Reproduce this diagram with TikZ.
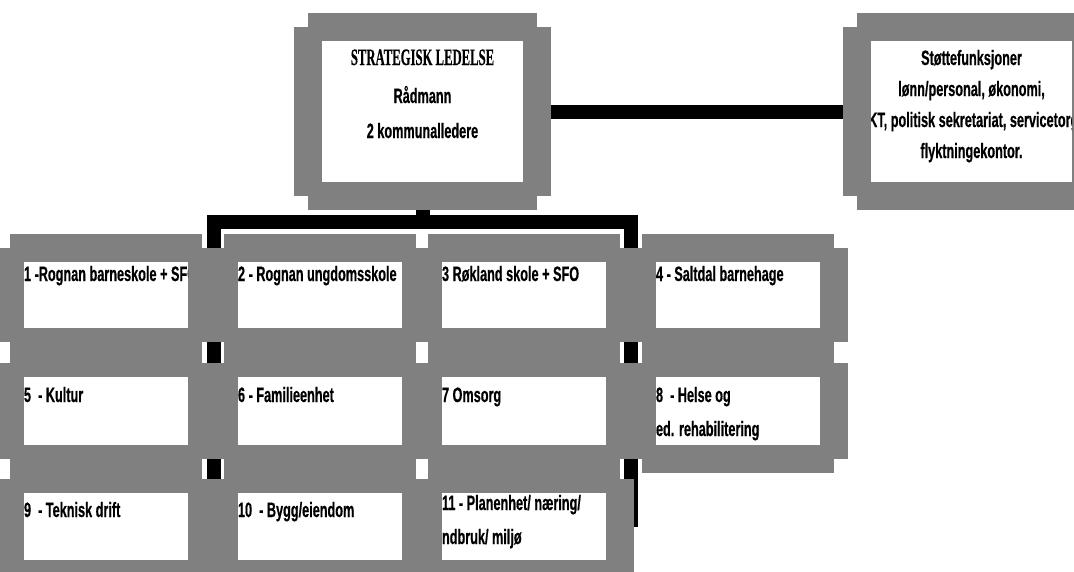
\documentclass[tikz,border=0pt]{standalone}
\usepackage{fontspec}
\newfontfamily\boxfont{Liberation Sans}[FakeStretch=0.61,FakeBold=0.5]
\newfontfamily\headfont{Liberation Serif}[FakeStretch=0.54,FakeBold=0.4]
\definecolor{framegray}{RGB}{128,128,128}
\pgfdeclarelayer{lines}
\pgfdeclarelayer{frames}
\pgfsetlayers{lines,frames,main}
\tikzset{
  wbox/.style={fill=white, draw=none, inner sep=0pt, outer sep=0pt, anchor=north west},
  bigbox/.style={wbox, minimum width=201pt, minimum height=141pt},
  unitbox/.style={wbox, minimum width=164pt},
  lbl/.style={inner sep=0pt, outer sep=0pt, anchor=base west, font=\boxfont\bfseries\fontsize{20.8}{24}\selectfont},
  clbl/.style={lbl, anchor=base},
  hlbl/.style={inner sep=0pt, outer sep=0pt, anchor=base, font=\headfont\bfseries\fontsize{23.5}{27}\selectfont},
  conn/.style={line width=14pt, draw=black, line cap=butt, line join=miter},
}
\newcommand\grayframe[1]{%
  \begin{pgfonlayer}{frames}
    \fill[framegray] ([shift={(-28,-14)}]#1.north west) rectangle ([shift={(28,14)}]#1.south east);
    \fill[framegray] ([shift={(-14,-28)}]#1.north west) rectangle ([shift={(14,28)}]#1.south east);
  \end{pgfonlayer}}
\begin{document}
\begin{tikzpicture}[x=1pt,y=-1pt]
\useasboundingbox (0,0) rectangle (1074,571);
% white boxes
\node[bigbox] (top) at (322,41) {};
\node[bigbox] (staff) at (871,41) {};
\node[unitbox, minimum height=66pt] (b1) at (24,262) {};
\node[unitbox, minimum height=66pt] (b2) at (238,262) {};
\node[unitbox, minimum height=66pt] (b3) at (442,262) {};
\node[unitbox, minimum height=66pt] (b4) at (656,262) {};
\node[unitbox, minimum height=68pt] (b5) at (24,377) {};
\node[unitbox, minimum height=68pt] (b6) at (238,377) {};
\node[unitbox, minimum height=68pt] (b7) at (442,377) {};
\node[unitbox, minimum height=68pt] (b8) at (656,377) {};
\node[unitbox, minimum height=67pt] (b9) at (24,493) {};
\node[unitbox, minimum height=67pt] (b10) at (238,493) {};
\node[unitbox, minimum height=67pt] (b11) at (442,493) {};
% gray frames
\grayframe{top}\grayframe{staff}
\grayframe{b1}\grayframe{b2}\grayframe{b3}\grayframe{b4}
\grayframe{b5}\grayframe{b6}\grayframe{b7}\grayframe{b8}
\grayframe{b9}\grayframe{b10}\grayframe{b11}
% connectors
\begin{pgfonlayer}{lines}
  \coordinate (jL) at (214,222);
  \coordinate (jR) at (631,222);
  \coordinate (endL) at (214,500);
  \coordinate (endR) at (631,527);
  \draw[conn] (top.south) -- (top.south |- jL);
  \draw[conn] (endL) -- (jL) -- (jR) -- (endR);
  \draw[conn] (top.east) -- (staff.west);
\end{pgfonlayer}
% texts
\node[hlbl] (t0a) at (422.5,65) {STRATEGISK LEDELSE};
\node[clbl] (t0b) at (422.5,103) {Rådmann};
\node[clbl] (t0c) at (422.5,138) {2 kommunalledere};
\begin{scope}
  \clip (staff.north west) rectangle (staff.south east);
  \node[clbl] (tsa) at (971.5,65) {Støttefunksjoner};
  \node[clbl] (tsb) at (971.5,96) {lønn/personal, økonomi,};
  \node[clbl] (tsc) at (971.5,127) {IKT, politisk sekretariat, servicetorg};
  \node[clbl] (tsd) at (971.5,158) {flyktningekontor.};
\end{scope}
\begin{scope}
  \clip (b1.north west) rectangle (b1.south east);
  \node[lbl] (t1) at (24,281) {1 -Rognan barneskole + SFO};
\end{scope}
\node[lbl] (t2) at (238,281) {2 - Rognan ungdomsskole};
\node[lbl] (t3) at (442,281) {3 Røkland skole + SFO};
\node[lbl] (t4) at (656,281) {4 - Saltdal barnehage};
\node[lbl] (t5) at (24,402) {5\ \ - Kultur};
\node[lbl] (t6) at (238,402) {6 - Familieenhet};
\node[lbl] (t7) at (442,402) {7 Omsorg};
\node[lbl] (t8a) at (656,402) {8\ \ - Helse og};
\node[lbl] (t8b) at (656,436) {ed. rehabilitering};
\node[lbl] (t9) at (24,517) {9\ \ - Teknisk drift};
\node[lbl] (t10) at (238,517) {10\ \ - Bygg/eiendom};
\node[lbl] (t11a) at (442,510) {11 - Planenhet/ næring/};
\node[lbl] (t11b) at (442,544) {ndbruk/ miljø};
\end{tikzpicture}
\end{document}
